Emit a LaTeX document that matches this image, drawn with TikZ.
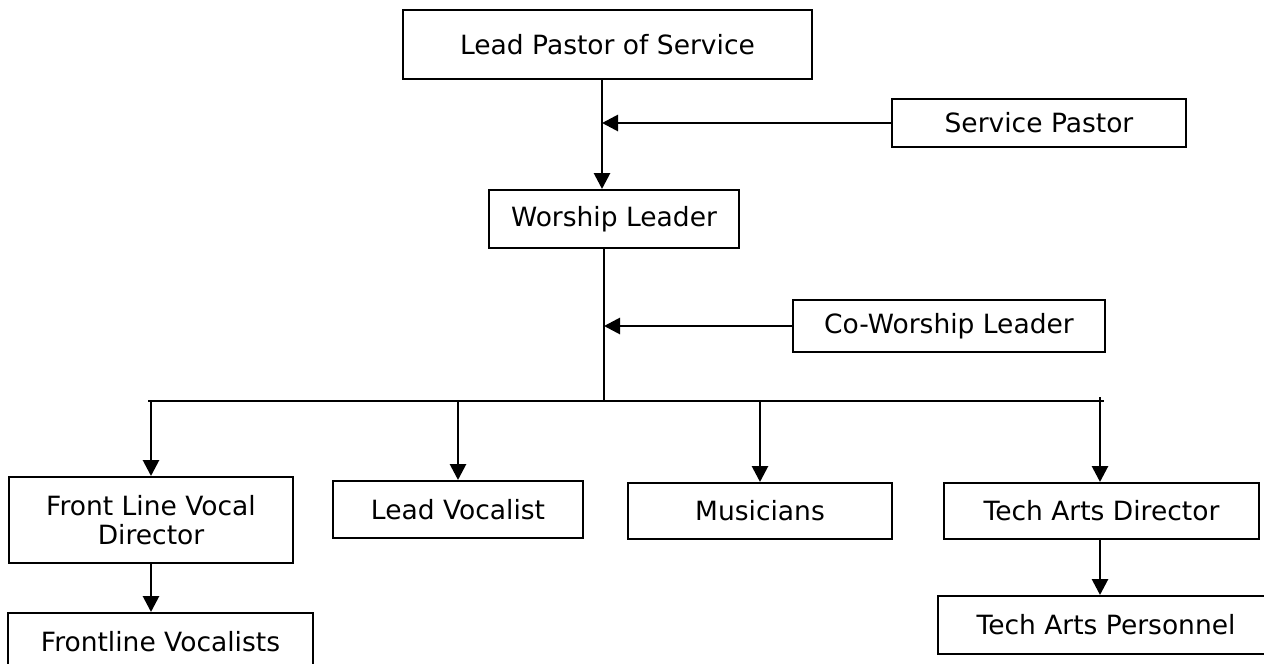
\documentclass[tikz,border=0pt]{standalone}
\usepackage{fontspec}
\setmainfont{DejaVu Sans}
\usetikzlibrary{arrows.meta,calc}
\tikzset{
  box/.style={draw=black, line width=2pt, inner sep=0pt, align=center,
    font=\fontsize{26.5}{29}\selectfont, fill=white},
  conn/.style={draw=black, line width=2.8pt},
  arr/.style={conn, -{Triangle[length=16pt,width=16pt]}},
  thinline/.style={draw=black, line width=1.4pt}
}
\begin{document}
\begin{tikzpicture}[x=1pt,y=-1pt]
\useasboundingbox[fill=white] (0,0) rectangle (1264,664);
\node[box, minimum width=409pt, minimum height=69pt] (lead) at (607.5,44.5) {Lead Pastor of Service};
\node[box, minimum width=294pt, minimum height=48pt] (service) at (1039,123) {Service Pastor};
\node[box, minimum width=250pt, minimum height=58pt] (worship) at (614,219) {Worship Leader};
\node[box, minimum width=312pt, minimum height=52pt] (cow) at (949,326) {Co-Worship Leader};
\node[box, minimum width=284pt, minimum height=86pt] (flvd) at (151,520) {Front Line Vocal\\Director};
\node[box, minimum width=250pt, minimum height=57pt] (leadvoc) at (458,509.5) {Lead Vocalist};
\node[box, minimum width=264pt, minimum height=56pt] (mus) at (760,511) {Musicians};
\node[box, minimum width=315pt, minimum height=56pt] (techdir) at (1101.5,511) {Tech Arts Director};
\node[box, minimum width=305pt, minimum height=58pt] (fv) at (160.5,642) {Frontline Vocalists};
\node[box, minimum width=336pt, minimum height=58pt] (tp) at (1106,625) {Tech Arts Personnel};

\coordinate (spine) at (602,123);
\coordinate (cospine) at (604,326);
\coordinate (busL) at (148,401);
\coordinate (busR) at (1104,401);
\coordinate (techtick) at (1100,397);

\draw[arr] (lead.south -| spine) -- (worship.north -| spine);
\draw[arr] (service.west) -- (spine);
\draw[thinline] (worship.south -| cospine) -- (busL -| cospine);
\draw[arr] (cow.west) -- (cospine);
\draw[conn, line width=2.2pt] (busL) -- (busR);
\draw[arr] (busL -| flvd.north) -- (flvd.north);
\draw[arr] (busL -| leadvoc.north) -- (leadvoc.north);
\draw[arr] (busL -| mus.north) -- (mus.north);
\draw[arr] (techtick) -- (techtick |- techdir.north);
\draw[arr] (flvd.south) -- (flvd.south |- fv.north);
\draw[arr] (techdir.south -| techtick) -- (techtick |- tp.north);
\end{tikzpicture}
\end{document}
